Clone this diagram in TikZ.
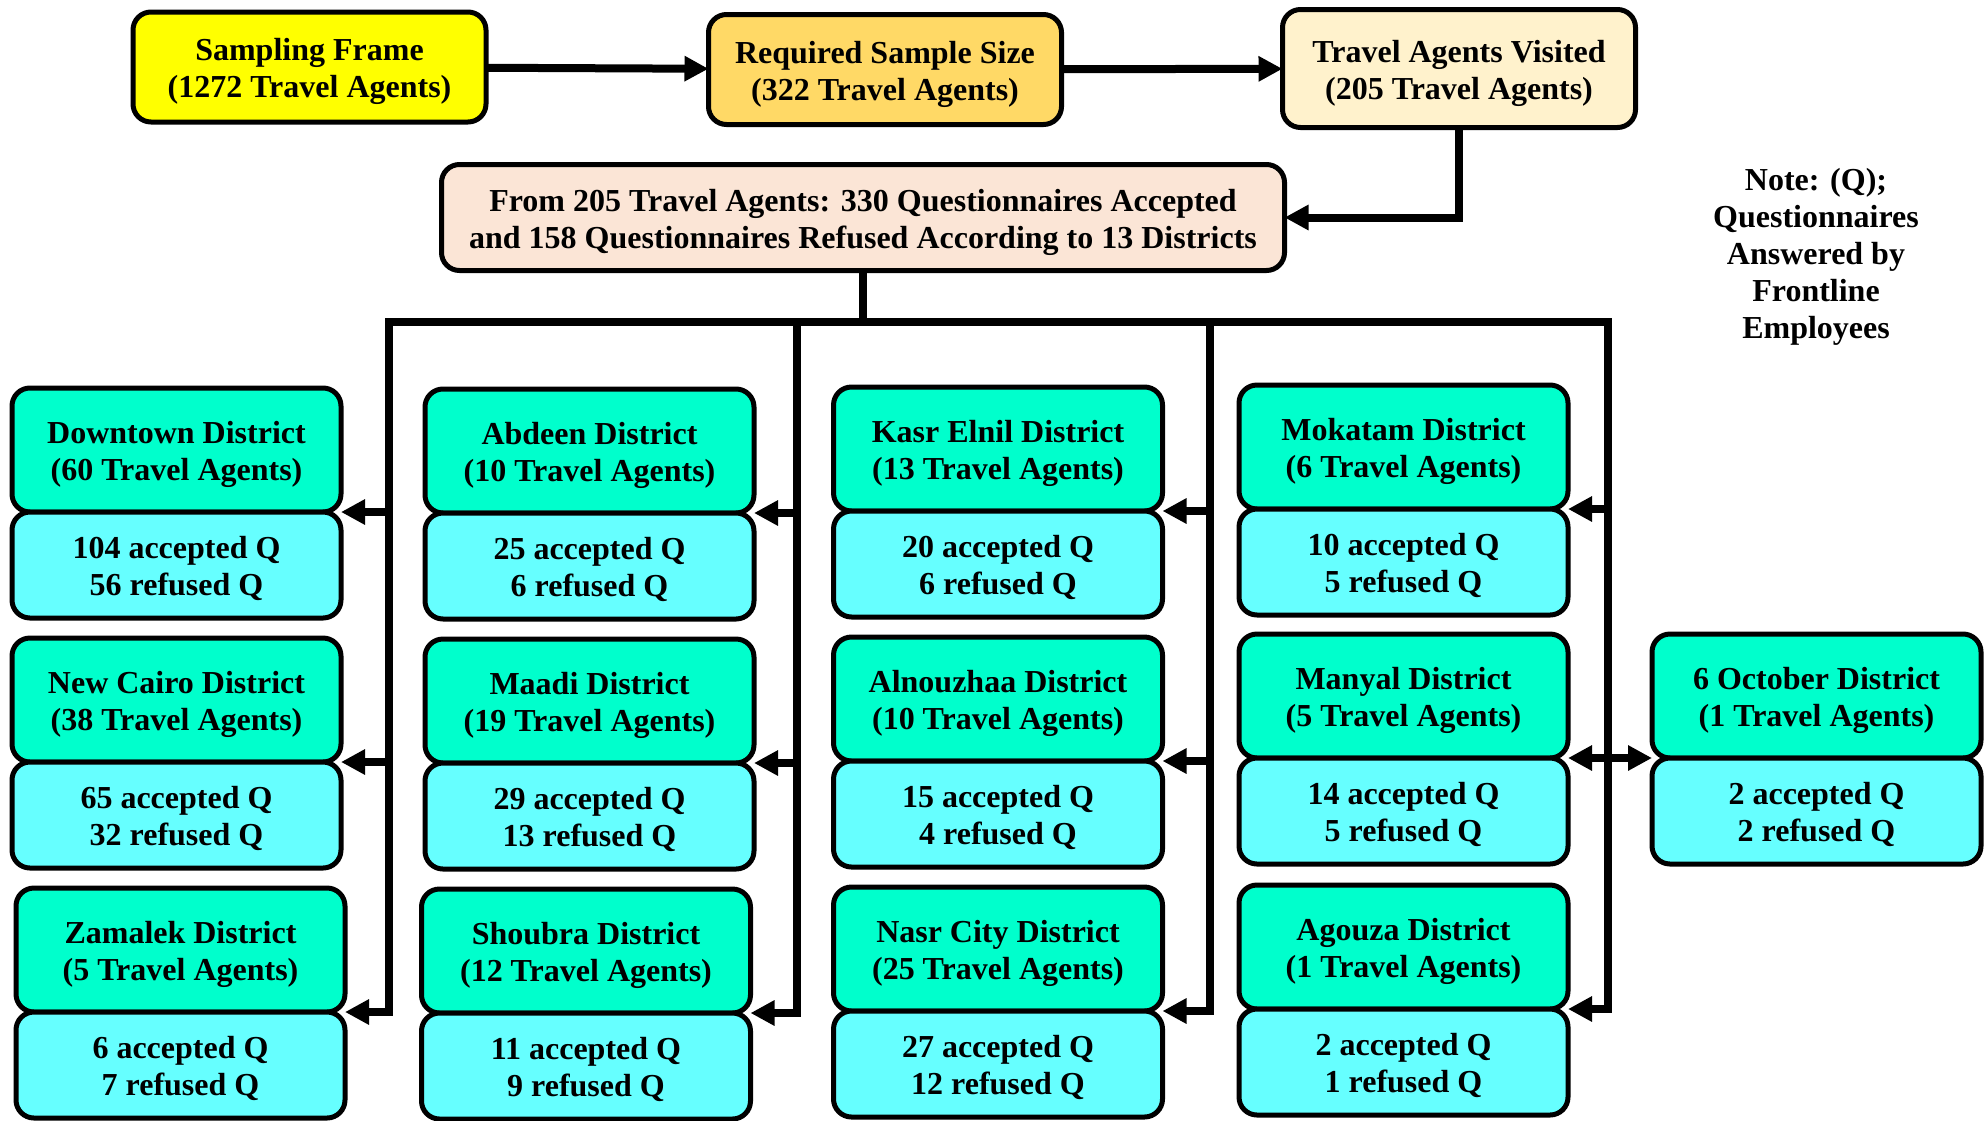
\documentclass[tikz,border=0pt]{standalone}
\usepackage{fontspec}
\setmainfont{Liberation Serif}
\usetikzlibrary{arrows.meta,positioning}
\definecolor{framefill}{HTML}{FFFF00}
\definecolor{sizefill}{HTML}{FFD966}
\definecolor{visitfill}{HTML}{FFF2CC}
\definecolor{sumfill}{HTML}{FBE5D6}
\definecolor{distfill}{HTML}{00FFCC}
\definecolor{cntfill}{HTML}{66FFFF}

\begin{document}
\begin{tikzpicture}[x=1pt,y=-1pt,
    box/.style={rounded corners=18pt,draw=black,line width=5pt,outer sep=0pt,inner sep=0pt,align=center,font=\fontsize{32}{37}\selectfont\bfseries,text height=61pt,text depth=0pt},
    topbox/.style={box,minimum width=353pt,minimum height=110pt},
    dist/.style={box,fill=distfill,minimum width=329pt,minimum height=124pt},
    cnt/.style={box,fill=cntfill,minimum width=329pt,minimum height=106pt},
    line/.style={line width=8pt,draw=black},
    arr/.style={line,-{Triangle[length=24pt,width=24pt]}}]
   \useasboundingbox (0,0) rectangle (1988,1120);
   % top row
   \node[topbox,fill=framefill] (frame)   at (309.5,67)  {Sampling Frame\\(1272 Travel Agents)};
   \node[topbox,fill=sizefill]  (reqsize) at (885,69.5)  {Required Sample Size\\(322 Travel Agents)};
   \node[topbox,fill=visitfill,minimum height=118pt] (visited) at (1459,68.5) {Travel Agents Visited\\(205 Travel Agents)};
   \draw[arr] (frame)--(reqsize);
   \draw[arr] (reqsize)--(visited);
   \node[box,fill=sumfill,minimum width=843pt,minimum height=106pt] (summary) at (863,217.5)
      {From 205 Travel Agents: 330 Questionnaires Accepted\\and 158 Questionnaires Refused According to 13 Districts};
   \draw[arr] (visited.south) |- (summary.east);
   \node[align=center,font=\fontsize{32}{37}\selectfont\bfseries] (note) at (1816,257)
      {Note: (Q);\\Questionnaires\\Answered by\\Frontline\\Employees};
   % districts
   \node[dist] (downtown) at (176.5,450) {Downtown District\\(60 Travel Agents)};
   \node[cnt,below=0pt of downtown] (downtownq) {104 accepted Q\\56 refused Q};
   \node[dist] (newcairo) at (176.5,700) {New Cairo District\\(38 Travel Agents)};
   \node[cnt,below=0pt of newcairo] (newcairoq) {65 accepted Q\\32 refused Q};
   \node[dist] (zamalek) at (180.5,950) {Zamalek District\\(5 Travel Agents)};
   \node[cnt,below=0pt of zamalek] (zamalekq) {6 accepted Q\\7 refused Q};
   \node[dist] (abdeen) at (589.5,451) {Abdeen District\\(10 Travel Agents)};
   \node[cnt,below=0pt of abdeen] (abdeenq) {25 accepted Q\\6 refused Q};
   \node[dist] (maadi) at (589.5,701) {Maadi District\\(19 Travel Agents)};
   \node[cnt,below=0pt of maadi] (maadiq) {29 accepted Q\\13 refused Q};
   \node[dist] (shoubra) at (586,951) {Shoubra District\\(12 Travel Agents)};
   \node[cnt,below=0pt of shoubra] (shoubraq) {11 accepted Q\\9 refused Q};
   \node[dist] (kasr) at (998,449) {Kasr Elnil District\\(13 Travel Agents)};
   \node[cnt,below=0pt of kasr] (kasrq) {20 accepted Q\\6 refused Q};
   \node[dist] (nouzhaa) at (998,699) {Alnouzhaa District\\(10 Travel Agents)};
   \node[cnt,below=0pt of nouzhaa] (nouzhaaq) {15 accepted Q\\4 refused Q};
   \node[dist] (nasr) at (998,949) {Nasr City District\\(25 Travel Agents)};
   \node[cnt,below=0pt of nasr] (nasrq) {27 accepted Q\\12 refused Q};
   \node[dist] (mokatam) at (1403.5,447) {Mokatam District\\(6 Travel Agents)};
   \node[cnt,below=0pt of mokatam] (mokatamq) {10 accepted Q\\5 refused Q};
   \node[dist] (manyal) at (1403.5,696) {Manyal District\\(5 Travel Agents)};
   \node[cnt,below=0pt of manyal] (manyalq) {14 accepted Q\\5 refused Q};
   \node[dist] (agouza) at (1403.5,947) {Agouza District\\(1 Travel Agents)};
   \node[cnt,below=0pt of agouza] (agouzaq) {2 accepted Q\\1 refused Q};
   \node[dist] (october) at (1816.5,696) {6 October District\\(1 Travel Agents)};
   \node[cnt,below=0pt of october] (octoberq) {2 accepted Q\\2 refused Q};
   % tree
   \coordinate (v1) at (389,322);
   \coordinate (v2) at (797,322);
   \coordinate (v3) at (1210,322);
   \coordinate (v4) at (1608,322);
   \draw[line] (summary.south) -- (summary.south |- v1);
   \draw[line,line cap=rect] (v1) -- (v4);
   \draw[arr] (v1) |- (downtown.south east);
   \draw[arr] (v1) |- (newcairo.south east);
   \draw[arr] (v1) |- (zamalek.south east);
   \draw[arr] (v2) |- (abdeen.south east);
   \draw[arr] (v2) |- (maadi.south east);
   \draw[arr] (v2) |- (shoubra.south east);
   \draw[arr] (v3) |- (kasr.south east);
   \draw[arr] (v3) |- (nouzhaa.south east);
   \draw[arr] (v3) |- (nasr.south east);
   \draw[arr] (v4) |- (mokatam.south east);
   \draw[arr] (v4) |- (manyal.south east);
   \draw[arr] (v4) |- (agouza.south east);
   \draw[arr] (v4) |- (october.south west);
\end{tikzpicture}
\end{document}
